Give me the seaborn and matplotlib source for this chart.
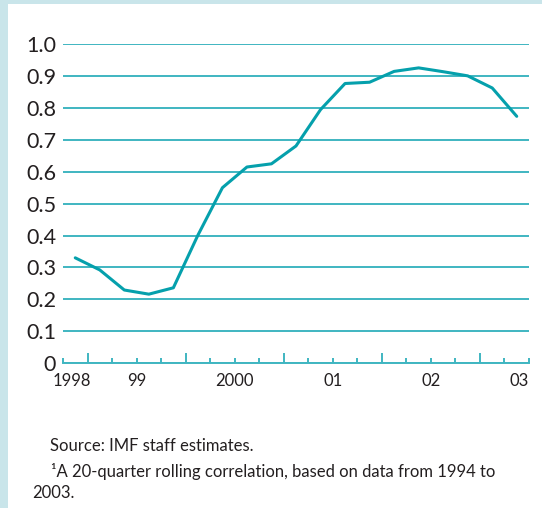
import seaborn as sns
import matplotlib.pyplot as plt
import matplotlib.transforms as mtransforms
import numpy as np
import pandas as pd
from matplotlib.patches import Rectangle

# quarterly data, 1998Q4 .. 2003Q2
quarters = [
    "1998Q4",
    "1999Q1", "1999Q2", "1999Q3", "1999Q4",
    "2000Q1", "2000Q2", "2000Q3", "2000Q4",
    "2001Q1", "2001Q2", "2001Q3", "2001Q4",
    "2002Q1", "2002Q2", "2002Q3", "2002Q4",
    "2003Q1", "2003Q2",
]
correlation = [
    0.330,
    0.292, 0.229, 0.216, 0.236,
    0.401, 0.550, 0.615, 0.625,
    0.681, 0.795, 0.877, 0.881,
    0.915, 0.926, 0.914, 0.901,
    0.863, 0.774,
]
year_labels = ["1998", "99", "2000", "01", "02", "03"]
year_label_pos = [-0.13, 2.5, 6.5, 10.5, 14.5, 18.1]
y_ticks = [0, 0.1, 0.2, 0.3, 0.4, 0.5, 0.6, 0.7, 0.8, 0.9, 1.0]
y_tick_labels = ["0", "0.1", "0.2", "0.3", "0.4", "0.5", "0.6", "0.7", "0.8", "0.9", "1.0"]

LINE_COLOR = "#05a0ac"
GRID_COLOR = "#3fb6c1"
TEXT_COLOR = "#231f20"
FRAME_COLOR = "#c9e5ea"

sns.set_style("white")
plt.rcParams["font.family"] = ["Lato", "DejaVu Sans"]

df = pd.DataFrame({"quarter": np.arange(len(quarters)), "value": correlation})

fig = plt.figure(figsize=(5.42, 5.08), dpi=100)
fig.patch.set_facecolor(FRAME_COLOR)
# white panel inside the light blue frame
fig.patches.append(
    Rectangle((8 / 542, 0), 1 - 8 / 542, 1 - 4 / 508,
              transform=fig.transFigure, facecolor="white", edgecolor="none", zorder=-10)
)

ax = fig.add_axes([63 / 542, 1 - 363 / 508, 466 / 542, 318.7 / 508])
ax.set_facecolor("none")

sns.lineplot(data=df, x="quarter", y="value", ax=ax, color=LINE_COLOR,
             linewidth=2.2, zorder=3)

ax.set_xlim(-0.5, len(quarters) - 0.5)
ax.set_ylim(0, 1.0)

# horizontal gridlines
ax.set_yticks(y_ticks)
ax.set_yticklabels(y_tick_labels)
ax.yaxis.grid(True, color=GRID_COLOR, linewidth=1.4)
ax.set_axisbelow(True)
ax.tick_params(axis="y", left=False, length=0, pad=5, labelsize=15.5,
               labelcolor=TEXT_COLOR)

# year boundaries = tall ticks, quarter boundaries = short ticks
year_bounds = [0.5, 4.5, 8.5, 12.5, 16.5]
quarter_bounds = [b for b in np.arange(-0.5, len(quarters), 1.0) if b not in year_bounds]
ax.set_xticks(year_bounds)
ax.set_xticklabels([])
ax.set_xticks(quarter_bounds, minor=True)
ax.tick_params(axis="x", which="major", bottom=True, direction="in", length=7.5,
               width=1.4, color=GRID_COLOR)
ax.tick_params(axis="x", which="minor", bottom=True, direction="in", length=3.4,
               width=1.4, color=GRID_COLOR)

trans = mtransforms.blended_transform_factory(ax.transData, ax.transAxes)
for lab, pos in zip(year_labels, year_label_pos):
    ax.text(pos, -0.055, lab, transform=trans, ha="center", va="center",
            fontsize=12, color=TEXT_COLOR)

for side in ["top", "right", "left"]:
    ax.spines[side].set_visible(False)
ax.spines["bottom"].set_color(GRID_COLOR)
ax.spines["bottom"].set_linewidth(1.4)

ax.set_xlabel("")
ax.set_ylabel("")

# notes
fig.text(50 / 542, 1 - 451 / 508, "Source: IMF staff estimates.", fontsize=12,
         color=TEXT_COLOR, va="baseline")
fig.text(51 / 542, 1 - 477 / 508,
         "\u00b9A 20-quarter rolling correlation, based on data from 1994 to",
         fontsize=12, color=TEXT_COLOR, va="baseline")
fig.text(32 / 542, 1 - 498.5 / 508, "2003.", fontsize=12, color=TEXT_COLOR,
         va="baseline")

fig.savefig("out.png", dpi=100, facecolor=fig.get_facecolor())
